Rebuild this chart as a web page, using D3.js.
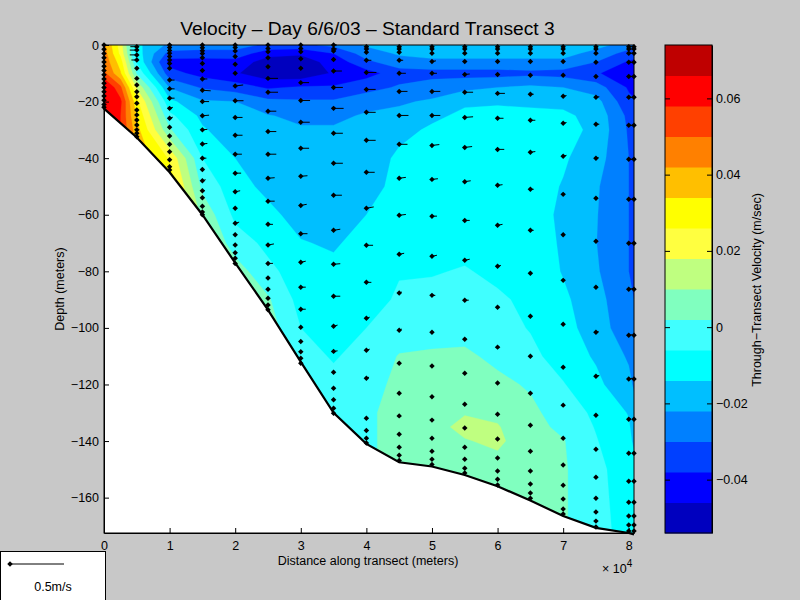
<!DOCTYPE html>
<html><head><meta charset="utf-8">
<script src="https://cdn.jsdelivr.net/npm/d3@7"></script>
<style>html,body{margin:0;padding:0;background:#c8c8c8}svg{display:block}text{font-family:"Liberation Sans",Arial,sans-serif;fill:#000}</style>
</head><body><div id="chart"></div>
<script>
// ---- colour bands
const levels=[-0.054,-0.046,-0.038,-0.030,-0.022,-0.014,-0.006,0.002,0.010,0.018,0.026,0.034,0.042,0.050,0.058,0.066,0.074];
const bandColors=["#0000bf","#0000ff","#0040ff","#0080ff","#00bfff","#00ffff","#40ffff","#80ffbf","#bfff80","#ffff40","#ffff00","#ffbf00","#ff8000","#ff4000","#ff0000","#bf0000"];
const cbarTicks=[-0.04,-0.02,0,0.02,0.04,0.06];
const xTicks=[0,10000,20000,30000,40000,50000,60000,70000,80000];
const yTicks=[-160,-140,-120,-100,-80,-60,-40,-20,0];
// ---- seabed
const bedX=[0,5000,10000,15000,20000,25000,30000,35000,40000,45000,50000,55000,60000,65000,70000,75000,80000,80800];
const bedD=[22.5,32.7,45,60,77,93.6,112,130,141,147.5,149,152,156,161,166.5,170.7,172.5,173];
// ---- velocity field: grid columns at these distances, rows at these depths
const gridX=[0,2500,5000,10000,15000,20000,25000,30000,35000,40000,45000,50000,55000,60000,65000,70000,75000,80000,80800];
const gridD=[0,3,6,10,15,20,25,30,40,50,60,70,80,90,100,110,120,130,135,140,150,160,175];
const c000=[.044,.046,.048,.052,.068,.064,.064,.064,.064,.064,.064,.064,.064,.064,.064,.064,.064,.064,.064,.064,.064,.064,.064];
const c025=[.022,.024,.030,.035,.052,.060,.058,.058,.058,.058,.058,.058,.058,.058,.058,.058,.058,.058,.058,.058,.058,.058,.058];
const c050=[-.012,-.010,-.007,.001,.017,.028,.033,.037,.040,.040,.040,.040,.040,.040,.040,.040,.040,.040,.040,.040,.040,.040,.040];
const c100=[-.024,-.033,-.041,-.035,-.0225,-.012,-.004,.003,.025,.032,.032,.032,.032,.032,.032,.032,.032,.032,.032,.032,.032,.032,.032];
const c150=[-.025,-.034,-.041,-.041,-.031,-.021,-.016,-.013,-.006,0,.008,.012,.012,.012,.012,.012,.012,.012,.012,.012,.012,.012,.012];
const c200=[-.026,-.033,-.041,-.045,-.034,-.022,-.020,-.019,-.014,-.011,-.008,-.002,.006,.006,.006,.006,.006,.006,.006,.006,.006,.006,.006];
const c250=[-.032,-.043,-.050,-.052,-.039,-.028,-.0215,-.020,-.019,-.016,-.012,-.008,-.004,.003,.006,.006,.006,.006,.006,.006,.006,.006,.006];
const c300=[-.032,-.045,-.050,-.052,-.037,-.029,-.024,-.021,-.020,-.0195,-.017,-.0135,-.010,-.009,-.006,-.004,-.003,-.003,-.003,-.003,-.003,-.003,-.003];
const c350=[-.028,-.038,-.043,-.045,-.037,-.029,-.024,-.021,-.020,-.019,-.017,-.015,-.012,-.010,-.009,-.0065,-.0045,-.002,-.002,-.002,-.002,-.002,-.002];
const c400=[-.021,-.026,-.032,-.041,-.033,-.025,-.021,-.020,-.020,-.019,-.014,-.011,-.010,-.009,-.006,-.004,-.002,.0005,.0005,.0005,.0005,.0005,.0005];
const c450=[-.018,-.021,-.025,-.034,-.029,-.023,-.020,-.017,-.012,-.010,-.0085,-.0075,-.0065,-.005,-.003,.0025,.0045,.005,.005,.005,.005,.005,.005];
const c500=[-.016,-.019,-.024,-.033,-.026,-.021,-.016,-.0125,-.011,-.0095,-.009,-.008,-.0065,-.004,-.001,.003,.006,.007,.0075,.006,.005,.005,.005];
const c550=[-.015,-.019,-.024,-.033,-.024,-.0155,-.012,-.011,-.0095,-.0085,-.0085,-.008,-.0055,-.0035,-.001,.0035,.007,.0095,.012,.0095,.006,.006,.006];
const c600=[-.0145,-.019,-.024,-.033,-.022,-.015,-.0115,-.0105,-.0095,-.0085,-.0085,-.0085,-.0075,-.005,-.003,0,.004,.0085,.0105,.0115,.007,.006,.006];
const c650=[-.0145,-.019,-.024,-.032,-.0205,-.0155,-.012,-.011,-.011,-.0105,-.0105,-.010,-.009,-.0075,-.0065,-.004,.001,.004,.005,.0055,.006,.006,.006];
const c700=[-.016,-.019,-.024,-.033,-.022,-.016,-.0125,-.011,-.013,-.0145,-.0155,-.015,-.0145,-.0125,-.011,-.0095,-.0055,-.002,0,.0025,.003,.003,.003];
const c750=[-.019,-.025,-.030,-.037,-.026,-.019,-.0165,-.016,-.0185,-.021,-.0215,-.0218,-.021,-.019,-.018,-.015,-.012,-.0075,-.0065,-.0055,-.004,-.004,-.004];
const c800=[-.026,-.033,-.039,-.044,-.039,-.036,-.032,-.031,-.030,-.030,-.030,-.030,-.030,-.0285,-.027,-.023,-.020,-.0145,-.013,-.0125,-.010,-.009,-.008];
const c808=[-.028,-.034,-.040,-.046,-.041,-.037,-.034,-.034,-.034,-.034,-.034,-.033,-.032,-.030,-.029,-.026,-.023,-.019,-.017,-.015,-.012,-.010,-.009];
const columns=[c000,c025,c050,c100,c150,c200,c250,c300,c350,c400,c450,c500,c550,c600,c650,c700,c750,c800,c808];
// ---- measured sticks per station: depth (m), eastward speed (m/s), upward speed (m/s)
const s000=[[0,0],[1.5,0],[3,0],[4.5,0],[6,0],[7.5,0],[9,0],[10.5,0],[12,0],[13.5,0],[15,0],[16.5,0],[18,0],[19.5,0],[21,0],[22,0]];
const s050=[[.6,-.06],[1.8,-.065],[3.5,-.065],[5.3,-.05],[8.2,0],[11.8,0],[14.1,0],[16.5,0],[18.3,0],[20.6,0],[23,0],[24.7,0],[26.5,0],[28.3,0],[30,0],[31.2,0],[32.4,0]];
const s100=[[0,.02],[.9,.015],[1.9,.01],[2.9,0],[4.1,0],[5.3,0],[6.5,0],[8.2,0],[12.4,.046],[15.5,.046],[18.8,.046],[22.4,.03,.01],[25.9,.03,.01],[29.1,.01],[32.2,0],[35.1,0],[37.7,0],[40.6,0],[43,0],[44.2,0]];
const s150=[[0,0],[1,0],[2,0],[3,0],[4.5,0],[6.5,0],[9,0],[12,.046],[16,.077,-.005],[20,.062],[25,.062,.005],[30,.046,.005],[35,.046,.005],[40,.037],[44,0],[48,.03,.01],[51.5,.02],[54,0],[57,0],[59,0],[60,0]];
const s200=[[0,0],[.9,0],[2.1,0],[4.1,0],[6.8,0],[10,0],[14.5,.074,.01],[19.7,.077],[25.6,.068],[31.9,.068],[38.6,.062],[45.3,.055],[51.9,.046,.01],[57.7,0],[63,.037,.01],[67.1,0],[70.7,0],[73.4,0],[75.4,0],[77.2,0]];
const s250=[[0,0],[1.2,0],[2.4,0],[4.5,0],[7.7,0],[11.8,.093],[16.7,.093],[23.4,.077],[30.6,.077],[38.6,.077],[47.1,.062,.005],[55.2,.062],[63.4,.046],[70.7,.055,.01],[77.2,.046],[82.4,0],[86.3,0],[89.5,0],[91.9,0],[93.6,0]];
const s300=[[0,0],[1.2,0],[2.4,0],[4.9,.02],[8.2,.02],[13.3,.077],[19.6,.086],[27.3,.083],[36.5,.077],[46.4,.062,.005],[56.7,.055,.01],[66.7,.062],[76.8,.046,.01],[85.6,.046],[93.4,.046],[99.8,0],[104.8,0],[108.4,0],[110.7,0],[112.5,0]];
const s350=[[0,.03],[1.4,.03],[2.1,.01],[5.1,.02],[9.2,.077],[15,.086],[22.4,.093],[31.2,.086],[41.8,.086],[53.1,.077],[65.5,.062,.01],[77.5,.062,.005],[88.8,.062],[99.4,.037,.01],[108.3,.037,.005],[115.7,0],[121.3,0],[125.4,0],[128.4,0],[130.2,0]];
const s400=[[.6,.02],[1.4,.02],[2.6,.015],[5.4,.046],[9.7,.093],[15.7,.086],[23.8,.086],[33.7,.086],[45,.077],[57.7,.068,.012],[70.8,.062],[83.9,.046],[96.6,.031,.01],[107.9,.031,.01],[117.8,.025,.01],[131.9,0],[136.3,0],[139,0],[140.7,0]];
const s450=[[.6,.02],[1.4,.015],[2.6,.01],[5.4,.037],[10,.062],[16.4,.077],[24.9,.086],[35.1,.077],[47.1,.062,.008],[60.2,.062,.008],[74,.046,.01],[87.7,.025,.01],[100.8,.025,.01],[112.5,0],[123.1,0],[131.1,0],[137.6,0],[142.2,0],[145,0],[146.9,0]];
const s500=[[.6,.02],[1.4,.02],[2.9,.015],[5.8,.037,.005],[10,.046],[16.4,.077],[24.9,.077],[35.5,.068,.008],[47.5,.055,.006],[60.5,.046],[74.7,.046,.01],[88.5,.031],[101.5,.015],[113.5,0],[124.3,0],[132.6,0],[139,0],[143.6,0],[146.4,0],[148.3,0]];
const s550=[[.6,.015],[1.4,.015],[2.9,.01],[5.8,.015],[10.4,.046,.004],[16.7,.077],[25.6,.077,.006],[36.2,.068,.008],[48.3,.055,.008],[62,.046],[76.1,.046,.01],[90.2,.037],[104,.015,.004],[116,0],[127,0],[135.4,0],[142.2,0],[146.4,0],[149.6,0],[151.3,0]];
const s600=[[.6,.01],[1.4,.01],[2.9,.01],[5.8,.01],[10.4,.015],[17.1,.068],[25.9,.055],[36.9,.062],[49.6,.046,.006],[63.7,.046,.008],[78.2,.031,.008],[92.7,.015,.003],[106.8,.015,.004],[119.5,0],[130.5,0],[139.3,0],[146,0],[150.6,0],[153.5,0],[155.5,0]];
const s650=[[.6,.01],[1.4,.01],[2.9,.01],[5.8,.01],[10.7,.015],[17.4,.031],[26.6,.046],[37.9,.046,.006],[51,.031],[65.5,.031],[80.7,.015,.005],[95.9,.015,.005],[110,.015,.005],[123.1,0],[134.4,0],[143.6,0],[150.6,0],[155.2,0],[158.4,0],[160.2,0]];
const s700=[[.6,.01],[1.4,.01],[2.9,.01],[5.8,.01],[10.7,.01],[18.1,.031,.006],[27.7,.031,.008],[39.3,.031,.008],[52.8,.015,.005],[67.1,.015,.005],[83.2,.015,.005],[98.7,.01,.005],[113.9,.015,.005],[127.3,0],[139,0],[148.5,0],[155.6,0],[160.5,0],[164,0],[165.8,0]];
const s750=[[.6,.01],[1.4,.01],[2.9,.01],[6.1,.01],[11.1,.015],[18.5,.031,.006],[28,.031],[40,.025,.005],[54.2,.015,.005],[69.4,.015,.005],[85.6,.015,.005],[101.5,.025,.005],[117.1,.031,.008],[130.9,.015],[142.9,.015],[152.8,.015],[160.2,.015],[165.1,0],[168.3,0],[170.4,0]];
const s800=[[.6,.03],[1.4,.03],[2.9,.03],[6.1,.03],[11.1,.046],[18.5,.05],[28.4,.05],[40.4,.05],[54.5,.04],[70.1,.04],[86.3,.04,.005],[102.6,.03,.005],[118.1,.03,.008],[132.3,.02,.005],[144.3,.015],[154.2,.01],[161.6,.01],[166.5,0],[169.7,0],[171.8,0]];
const s808=[[.6,.015],[1.4,.015],[2.9,.015],[6.1,.015],[11.1,.015],[18.5,.015],[28.4,.015],[40.4,.015],[54.5,.015],[70.1,.015],[86.3,.015],[102.6,.015],[118.1,.015],[132.3,.01],[144.3,.01],[154.2,.01],[161.6,.01],[166.5,.01],[169.7,.01],[171.8,.01]];
const stations=[[0,s000],[5000,s050],[10000,s100],[15000,s150],[20000,s200],[25000,s250],[30000,s300],[35000,s350],[40000,s400],[45000,s450],[50000,s500],[55000,s550],[60000,s600],[65000,s650],[70000,s700],[75000,s750],[80000,s800],[80800,s808]];
const legendSpeed=0.5;

const W=800,H=600;
const svg=d3.select("#chart").append("svg").attr("width",W).attr("height",H);
svg.append("rect").attr("width",W).attr("height",H).attr("fill","#c8c8c8");

const x=d3.scaleLinear().domain([0,80800]).range([104,634]);
const y=d3.scaleLinear().domain([-172.5,0]).range([533,45]);
const speed=d3.scaleLinear().domain([0,legendSpeed]).range([0,54]);

svg.append("rect").attr("x",104).attr("y",45).attr("width",530).attr("height",488).attr("fill","#fff");

// water polygon used as clip
const outline=[[0,0],[80800,0]].concat(bedX.map((v,i)=>[v,bedD[i]]).reverse());
const pathLine=d3.line().x(d=>x(d[0])).y(d=>y(-d[1]));
svg.append("clipPath").attr("id","water").append("path").attr("d",pathLine(outline)+"Z");

// contours on the station/depth grid
const nx=gridX.length,ny=gridD.length,values=[];
for(let j=0;j<ny;j++)for(let i=0;i<nx;i++)values.push(columns[i][j]);
const colPos=d3.scaleLinear().domain([0].concat(gridX.map((_,i)=>i+.5),[nx])).range([0].concat(gridX,[gridX[nx-1]]));
const rowPos=d3.scaleLinear().domain([0].concat(gridD.map((_,j)=>j+.5),[ny])).range([0].concat(gridD,[gridD[ny-1]]));
const contours=d3.contours().size([nx,ny]).smooth(true).thresholds(levels.slice(0,-1))(values);
const geo=d3.geoPath(d3.geoTransform({point(px,py){this.stream.point(x(colPos(px)),y(-rowPos(py)));}}));
const gField=svg.append("g").attr("clip-path","url(#water)");
gField.selectAll("path").data(contours).join("path").attr("d",geo)
  .attr("fill",(d,i)=>bandColors[i]).attr("stroke",(d,i)=>bandColors[i]).attr("stroke-width",.3);
// seabed line
const bedPts=bedX.map((v,i)=>[v,bedD[i]]);
svg.append("path").attr("d",pathLine(bedPts)).attr("fill","none").attr("stroke","#000").attr("stroke-width",2.2);

// sticks and markers
const gS=svg.append("g");
const marker=d3.symbol().type(d3.symbolSquare).size(15);
stations.forEach(([sx,rows])=>{
  rows.forEach(r=>{
    const px=x(sx),py=y(-r[0]);
    if(r[1]!==0)gS.append("line").attr("x1",px).attr("y1",py).attr("x2",px+speed(r[1])).attr("y2",py-speed(r[2]||0)).attr("stroke","#000").attr("stroke-width",1);
    gS.append("path").attr("d",marker()).attr("transform",`translate(${px},${py}) rotate(45)`).attr("fill","#000");
  });
});

// axes
const fmtY=d=>d<0?"\u2212"+Math.abs(d):String(d);
const fs=12.5;
const gx=svg.append("g").attr("transform","translate(0,533)").call(d3.axisBottom(x).tickValues(xTicks).tickSizeInner(-5).tickSizeOuter(0).tickPadding(8).tickFormat(d=>d/10000));
const gy=svg.append("g").attr("transform","translate(104,0)").call(d3.axisLeft(y).tickValues(yTicks).tickSizeInner(-5).tickSizeOuter(0).tickPadding(5).tickFormat(fmtY));
[gx,gy].forEach(g=>{g.selectAll("text").style("font-size",fs+"px").style("font-family",'"Liberation Sans"');g.select(".domain").attr("stroke","#000");g.selectAll("line").attr("stroke","#000");});
svg.append("rect").attr("x",104).attr("y",45).attr("width",530).attr("height",488).attr("fill","none").attr("stroke","#000").attr("stroke-width",1);

// titles
svg.append("text").attr("x",367.5).attr("y",35).attr("text-anchor","middle").style("font-size","19.2px").text("Velocity \u2013 Day 6/6/03 \u2013 Standard Transect 3");
svg.append("text").attr("x",368).attr("y",565).attr("text-anchor","middle").style("font-size",fs+"px").text("Distance along transect (meters)");
svg.append("text").attr("transform","translate(64,289) rotate(-90)").attr("text-anchor","middle").style("font-size",fs+"px").text("Depth (meters)");
const xm=svg.append("text").attr("x",602).attr("y",573).style("font-size",fs+"px");
xm.append("tspan").text("\u00d7 10");
xm.append("tspan").attr("dy",-6).style("font-size","10px").text("4");

// colour bar
const cb=d3.scaleLinear().domain([levels[0],levels[levels.length-1]]).range([533,45]);
const gB=svg.append("g");
gB.selectAll("rect").data(bandColors).join("rect").attr("x",665).attr("width",47)
  .attr("y",(d,i)=>cb(levels[i+1])).attr("height",(d,i)=>cb(levels[i])-cb(levels[i+1])+.5).attr("fill",d=>d);
const gc=svg.append("g").attr("transform","translate(712,0)").call(d3.axisRight(cb).tickValues(cbarTicks).tickSizeInner(-5).tickSizeOuter(0).tickPadding(4).tickFormat(d=>d===0?"0":(d<0?"\u2212":"")+Math.abs(d).toFixed(2)));
gc.selectAll("text").style("font-size",fs+"px").style("font-family",'"Liberation Sans"');
gc.selectAll("line").attr("stroke","#000");gc.select(".domain").attr("stroke","#000");
svg.append("g").selectAll("line").data(cbarTicks).join("line").attr("x1",665).attr("x2",670).attr("y1",d=>cb(d)+.5).attr("y2",d=>cb(d)+.5).attr("stroke","#000");
svg.append("rect").attr("x",665).attr("y",45).attr("width",47).attr("height",488).attr("fill","none").attr("stroke","#000");
svg.append("text").attr("transform","translate(761,290) rotate(-90)").attr("text-anchor","middle").style("font-size",fs+"px").text("Through\u2212Transect Velocity (m/sec)");

// scale legend
svg.append("rect").attr("x",.5).attr("y",551.5).attr("width",105).attr("height",49).attr("fill","#fff").attr("stroke","#000");
svg.append("line").attr("x1",10).attr("x2",10+speed(legendSpeed)).attr("y1",564).attr("y2",564).attr("stroke","#000");
svg.append("path").attr("d",marker()).attr("transform","translate(10,564) rotate(45)").attr("fill","#000");
svg.append("text").attr("x",53).attr("y",591).attr("text-anchor","middle").style("font-size",fs+"px").text(legendSpeed+"m/s");
</script></body></html>
